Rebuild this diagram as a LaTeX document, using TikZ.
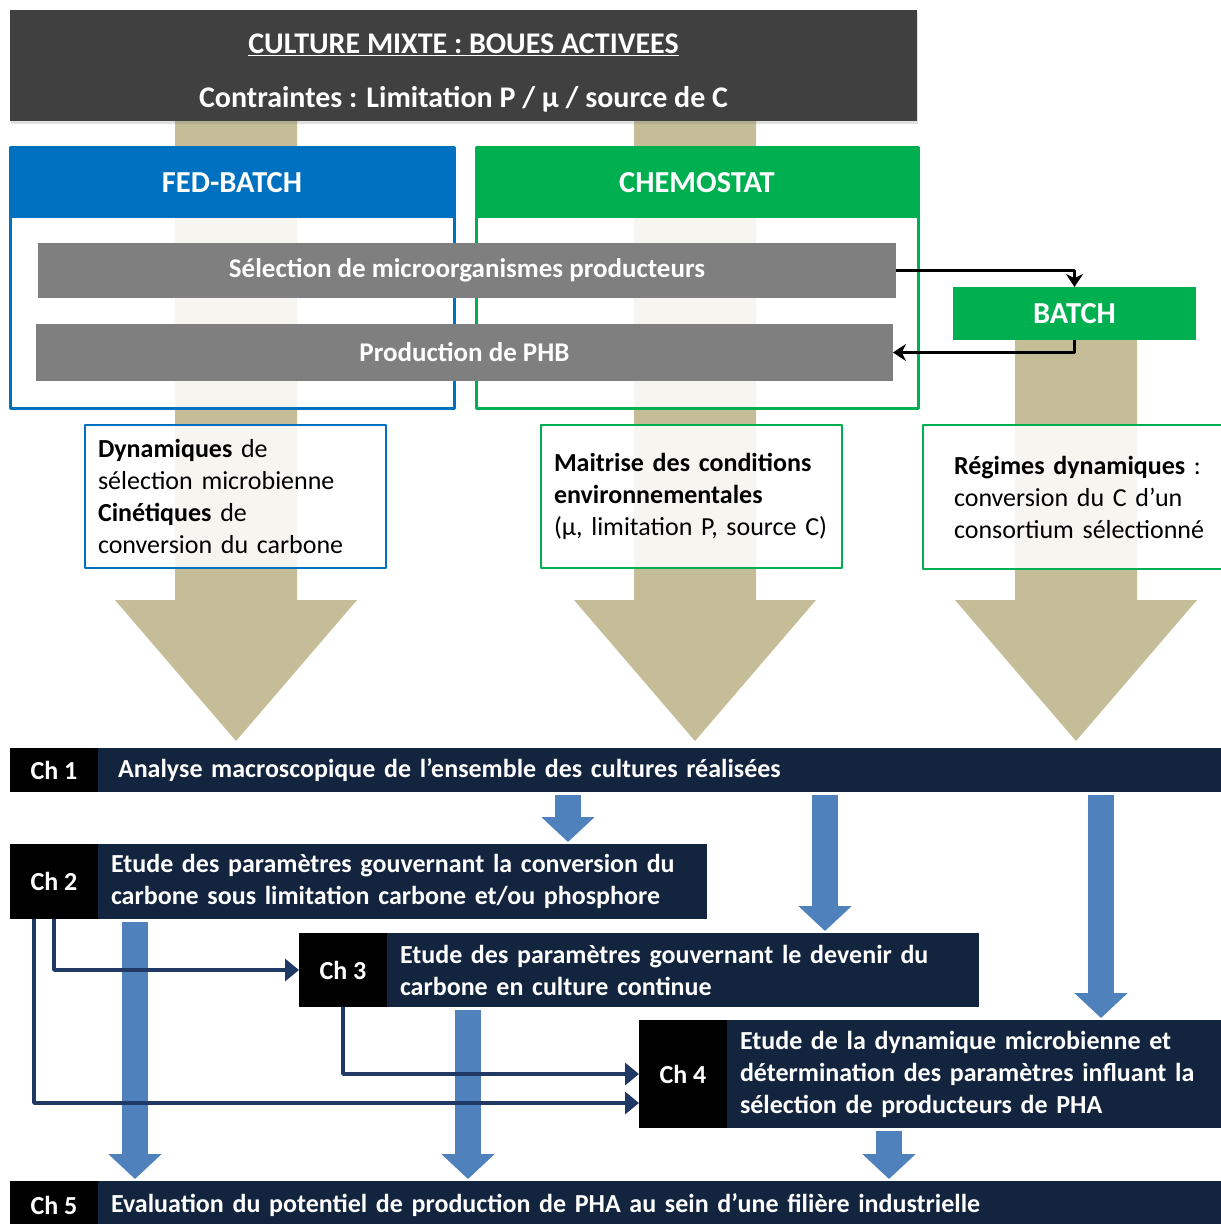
\documentclass[tikz,border=0pt]{standalone}
\usepackage{fontspec}
\setmainfont{Carlito}
\usetikzlibrary{positioning,arrows.meta,shadows}

\definecolor{titlegray}{HTML}{404040}
\definecolor{khaki}{HTML}{C4BD97}
\definecolor{fedblue}{HTML}{0070C0}
\definecolor{chemgreen}{HTML}{00B050}
\definecolor{bargray}{HTML}{7F7F7F}
\definecolor{chnavy}{HTML}{13243E}
\definecolor{linknavy}{HTML}{1F3864}
\definecolor{arrowblue}{HTML}{4F81BD}

\newcommand{\titlefont}{\fontsize{30}{54}\selectfont\bfseries}
\newcommand{\headfont}{\fontsize{30.5}{34}\selectfont\bfseries}
\newcommand{\barfont}{\fontsize{27}{30}\selectfont\bfseries}
\newcommand{\notefont}{\fontsize{26}{32}\selectfont}
\newcommand{\chfont}{\fontsize{26}{32}\selectfont\bfseries}

\tikzset{
  every node/.style={inner sep=0pt, outer sep=0pt},
  titlebox/.style={fill=titlegray, text=white, font=\titlefont, align=center,
    anchor=north west, minimum width=907pt, minimum height=111pt,
    drop shadow={opacity=.25, shadow xshift=1pt, shadow yshift=-3pt}},
  frame/.style={draw=#1, line width=3pt, fill=white, fill opacity=.85,
    anchor=north west, minimum height=261pt},
  head/.style={fill=#1, text=white, font=\headfont, anchor=north west},
  graybar/.style={fill=bargray, text=white, font=\barfont, anchor=north west},
  note/.style={draw=#1, line width=2.5pt, fill=white, fill opacity=.85,
    text opacity=1, anchor=north west, align=left, font=\notefont,
    inner xsep=13pt, text width=275pt, minimum height=143pt},
  chlab/.style={fill=black, text=white, font=\chfont, minimum width=88pt,
    anchor=north west},
  chbody/.style={fill=chnavy, text=white, font=\chfont, anchor=north west,
    align=left, inner xsep=13pt},
  flow/.style={draw=black, line width=3.5pt, -{Stealth[width=17pt,length=13pt]}},
  bluearrow/.style={draw=arrowblue, line width=26pt,
    -{Triangle[width=52pt,length=25pt]}},
  link/.style={draw=linknavy, line width=3.5pt,
    -{Triangle[width=22pt,length=14pt]}}
}

\begin{document}
\begin{tikzpicture}[x=1pt,y=-1pt,line join=round]
  \useasboundingbox (0,0) rectangle (1221,1224);

  % khaki arrows behind everything
  \foreach \cx/\top in {236/121,695/121,1076/340}
    \fill[khaki] (\cx-61,\top) -- (\cx+61,\top) -- (\cx+61,600) -- (\cx+121,600)
      -- (\cx,741) -- (\cx-121,600) -- (\cx-61,600) -- cycle;

  \node[titlebox] (title) at (10,10)
    {\rule{0pt}{34pt}\underline{CULTURE MIXTE : BOUES ACTIVEES}\\Contraintes : Limitation P / µ / source de C};

  % reactor modes
  \node[frame=fedblue, minimum width=444pt] (fed) at (10,147) {};
  \node[head=fedblue, minimum width=444pt, minimum height=71pt] (fedhead) at (fed.north west) {FED-BATCH};
  \node[frame=chemgreen, minimum width=442pt] (chem) at (476,147) {};
  \node[head=chemgreen, minimum width=442pt, minimum height=71pt] (chemhead) at (chem.north west) {CHEMOSTAT};

  \node[graybar, minimum width=858pt, minimum height=55pt] (sel) at (38,243) {Sélection de microorganismes producteurs};
  \node[graybar, minimum width=857pt, minimum height=57pt] (prod) at (36,324) {Production de PHB};
  \node[head=chemgreen, minimum width=243pt, minimum height=53pt] (batch) at (953,287) {BATCH};

  \draw[flow] (sel.east) -| (batch.north);
  \draw[flow] (batch.south) |- (prod.east);

  % what each mode brings
  \node[note=fedblue] (fednote) at (85,425)
    {\textbf{Dynamiques} de\\sélection microbienne\\\textbf{Cinétiques} de\\conversion du carbone};
  \node[note=chemgreen] (chemnote) at (541,425)
    {\textbf{Maitrise des conditions}\\\textbf{environnementales}\\(µ, limitation P, source C)};
  \node[note=chemgreen, inner xsep=31pt, text width=270pt, minimum height=144pt] (batchnote) at (923,425)
    {\textbf{Régimes dynamiques} :\\conversion du C d’un\\consortium sélectionné};

  % chapters
  \node[chlab, minimum height=44pt] (ch1) at (10,748) {Ch 1};
  \node[chbody, minimum height=44pt, inner xsep=20pt, text width=1083pt] (ch1txt) at (ch1.north east)
    {Analyse macroscopique de l’ensemble des cultures réalisées};
  \node[chlab, minimum height=75pt] (ch2) at (10,844) {Ch 2};
  \node[chbody, minimum height=75pt, text width=583pt] (ch2txt) at (ch2.north east)
    {Etude des paramètres gouvernant la conversion du\\carbone sous limitation carbone et/ou phosphore};
  \node[chlab, minimum height=74pt] (ch3) at (299,933) {Ch 3};
  \node[chbody, minimum height=74pt, text width=566pt] (ch3txt) at (ch3.north east)
    {Etude des paramètres gouvernant le devenir du\\carbone en culture continue};
  \node[chlab, minimum height=108pt] (ch4) at (639,1020) {Ch 4};
  \node[chbody, minimum height=108pt, text width=480pt] (ch4txt) at (ch4.north east)
    {Etude de la dynamique microbienne et\\détermination des paramètres influant la\\sélection de producteurs de PHA};
  \node[chlab, minimum height=48pt] (ch5) at (10,1181) {Ch 5};
  \node[chbody, minimum height=48pt, text width=1097pt] (ch5txt) at (ch5.north east)
    {Evaluation du potentiel de production de PHA au sein d’une filière industrielle};

  \foreach \src/\dst/\cx in {ch1txt/ch2txt/568, ch1txt/ch3txt/825, ch1txt/ch4txt/1101,
                             ch2txt/ch5txt/135, ch3txt/ch5txt/468, ch4txt/ch5txt/889} {
    \coordinate (ax) at (\cx,0);
    \draw[bluearrow] ([yshift=-3pt]\src.south -| ax) -- ([yshift=2pt]\dst.north -| ax);
  }

  \draw[link] (ch2.south) |- (ch3.west);
  \draw[link] ([xshift=-20pt]ch2.south) |- ([yshift=-29pt]ch4.west);
  \draw[link] (ch3.south) |- (ch4.west);
\end{tikzpicture}
\end{document}
